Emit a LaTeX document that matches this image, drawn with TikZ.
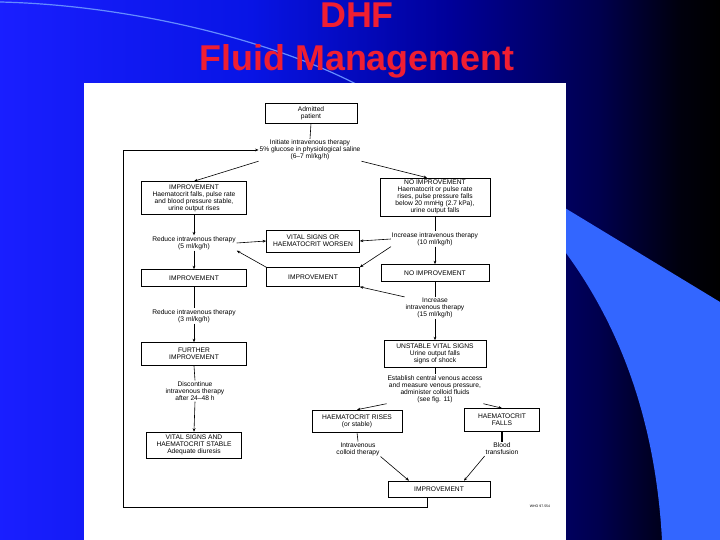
\documentclass[tikz,border=0pt]{standalone}
\usepackage{fontspec}
\setmainfont{Liberation Sans}
\newfontfamily\titlefont{Liberation Sans}
\usetikzlibrary{arrows.meta,calc}
\definecolor{titlered}{RGB}{240,30,50}
\definecolor{bandblue}{RGB}{51,102,255}
\definecolor{arcblue}{RGB}{100,140,255}
\pgfdeclarehorizontalshading{bgshade}{100bp}{rgb(0bp)=(0.1,0.12,1); rgb(25bp)=(0.1,0.12,1); rgb(42.36bp)=(0.03,0.08,0.9); rgb(56.25bp)=(0,0,0.6); rgb(66.67bp)=(0,0,0.3); rgb(72.22bp)=(0,0,0.05); rgb(75bp)=(0,0,0); rgb(100bp)=(0,0,0)}
\tikzset{
  txt/.style={font=\fontsize{6.7}{7.1}\selectfont,align=center,inner sep=0.8bp},
  box/.style={txt,draw=black,line width=0.6bp,fill=white},
  lbl/.style={txt},
  arr/.style={-{Stealth[length=3.5bp,width=2.8bp]},line width=0.6bp},
  ln/.style={line width=0.6bp},
  ttl/.style={font=\titlefont\bfseries\fontsize{36}{36}\selectfont,text=titlered,inner sep=0pt,anchor=base},
}
\begin{document}
\begin{tikzpicture}[x=1bp,y=-1bp]
\useasboundingbox (0,0) rectangle (720,540);
% background
\shade[shading=bgshade] (0,0) rectangle (720,540);
\fill[bandblue] (560,205) -- (720,302) -- (720,540) -- (662,540)
   .. controls (656,430) and (625,330) .. (560,245) -- cycle;
\draw[arcblue,line width=1.2bp] (0,2) .. controls (130,5) and (270,40) .. (356,84);
% title
\node[ttl] (t1) at (357,28) {DHF};
\node[ttl] (t2) at (357,71) {Fluid Management};
% white panel
\fill[white] (84,83) rectangle (566,540);

% nodes
\node[box,minimum width=92bp,minimum height=20bp] (top) at (311,113) {Admitted\\patient};
\node[lbl] (init) at (310,150) {Initiate intravenous therapy\\5\% glucose in physiological saline\\(6--7 ml/kg/h)};
\node[box,minimum width=105bp,minimum height=33bp] (imp1) at (194,198) {IMPROVEMENT\\Haematocrit falls, pulse rate\\and blood pressure stable,\\urine output rises};
\node[box,minimum width=110bp,minimum height=38bp] (noimp1) at (435,197) {NO IMPROVEMENT\\Haematocrit or pulse rate\\rises, pulse pressure falls\\below 20 mmHg (2.7 kPa),\\urine output falls};
\node[lbl] (red5) at (194,243) {Reduce intravenous therapy\\(5 ml/kg/h)};
\node[box,minimum width=93bp,minimum height=22bp] (vital) at (313,241) {VITAL SIGNS OR\\HAEMATOCRIT WORSEN};
\node[lbl] (inc10) at (435,239) {Increase intravenous therapy\\(10 ml/kg/h)};
\node[box,minimum width=105bp,minimum height=17bp] (imp2) at (194,278) {IMPROVEMENT};
\node[box,minimum width=93bp,minimum height=19bp] (impmid) at (313,277) {IMPROVEMENT};
\node[box,minimum width=108bp,minimum height=17bp] (noimp2) at (435,273) {NO IMPROVEMENT};
\node[lbl] (red3) at (194,316) {Reduce intravenous therapy\\(3 ml/kg/h)};
\node[lbl] (inc15) at (435,308) {Increase\\intravenous therapy\\(15 ml/kg/h)};
\node[box,minimum width=105bp,minimum height=23bp] (further) at (194,354) {FURTHER\\IMPROVEMENT};
\node[box,minimum width=102bp,minimum height=27bp] (unstable) at (435,354) {UNSTABLE VITAL SIGNS\\Urine output falls\\signs of shock};
\node[lbl] (disc) at (195,391) {Discontinue\\intravenous therapy\\after 24--48 h};
\node[lbl] (est) at (435,389) {Establish central venous access\\and measure venous pressure,\\administer colloid fluids\\(see fig. 11)};
\node[box,minimum width=95bp,minimum height=26bp] (vstable) at (194,445) {VITAL SIGNS AND\\HAEMATOCRIT STABLE\\Adequate diuresis};
\node[box,minimum width=90bp,minimum height=22bp] (rises) at (357,421) {HAEMATOCRIT RISES\\(or stable)};
\node[box,minimum width=75bp,minimum height=23bp] (falls) at (502,420) {HAEMATOCRIT\\FALLS};
\node[lbl] (colloid) at (358,449) {Intravenous\\colloid therapy};
\node[lbl] (blood) at (502,449) {Blood\\transfusion};
\node[box,minimum width=102bp,minimum height=16bp] (impbot) at (439,489) {IMPROVEMENT};
\node[lbl,font=\fontsize{3.5}{4}\selectfont] (foot) at (540,506) {WHO 97.554};
\coordinate (loopbl) at (123,507);

% connectors
\draw[ln] (top.south) -- (init.north);
\draw[arr] (init.south west) -- (imp1.north);
\draw[arr] (init.south east) -- ([xshift=-8bp]noimp1.north);
\draw[arr] (imp1.south) -- (red5.north);
\draw[arr] (red5.east) -- (vital.west);
\draw[arr] (inc10.west) -- (vital.east);
\draw[ln] (noimp1.south) -- (inc10.north);
\draw[arr] (inc10.south) -- (noimp2.north);
\draw[arr] (red5.south) -- (imp2.north);
\draw[arr] (impmid.north west) -- (red5.south east);
\draw[arr] (inc10.south west) -- (impmid.north east);
\draw[arr] (inc15.north west) -- (impmid.south east);
\draw[ln] (noimp2.south) -- (inc15.north);
\draw[arr] (inc15.south) -- (unstable.north);
\draw[ln] (imp2.south) -- (red3.north);
\draw[arr] (red3.south) -- (further.north);
\draw[ln] (further.south) -- (disc.north);
\draw[arr] (disc.south) -- (vstable.north);
\draw[ln] (unstable.south) -- (est.north);
\draw[arr] (est.south west) -- (rises.north);
\draw[arr] (est.south east) -- (falls.north);
\draw[ln] (rises.south) -- (colloid.north);
\draw[line width=1.2bp] (falls.south) -- (blood.north);
\draw[arr] (colloid.south east) -- ([xshift=-30bp]impbot.north);
\draw[arr] (blood.south west) -- ([xshift=25bp]impbot.north);
\draw[arr] ([xshift=-12bp]impbot.south) |- (loopbl) |- (init.west);
\end{tikzpicture}
\end{document}
